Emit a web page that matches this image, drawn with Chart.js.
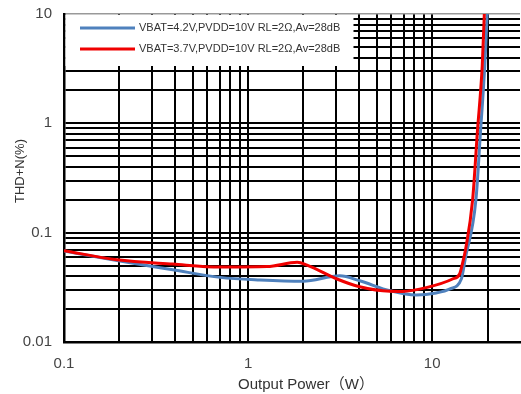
<!DOCTYPE html>
<html lang="zh">
<head>
<meta charset="UTF-8">
<title>THD+N vs Output Power</title>
<style>
  html, body { margin: 0; padding: 0; background: #fff; }
  #wrap { width: 521px; height: 394px; }
</style>
</head>
<body>
<div id="wrap"><canvas id="thd" width="521" height="394"></canvas></div>
<script src="https://cdn.jsdelivr.net/npm/chart.js"></script>
<script>
  // grid / tick values
  const xTicks = [0.1, 0.2, 0.3, 0.4, 0.5, 0.6, 0.7, 0.8, 0.9, 1, 2, 3, 4, 5, 6, 7, 8, 9, 10, 20];
  const yTicks = [0.01, 0.02, 0.03, 0.04, 0.05, 0.06, 0.07, 0.08, 0.09,
                  0.1, 0.2, 0.3, 0.4, 0.5, 0.6, 0.7, 0.8, 0.9,
                  1, 2, 3, 4, 5, 6, 7, 8, 9, 10];
  const xLabels = [0.1, 1, 10];
  const yLabels = [0.01, 0.1, 1, 10];

  // VBAT=4.2V curve
  const powerA = [0.1, 0.194, 0.39, 0.705, 1.16, 1.99, 3.15, 4.04, 5.9, 8.2, 10.5, 12.5, 14.4, 15.1, 17.3, 18.3, 19.3, 19.9];
  const thdA   = [0.068, 0.0556, 0.0458, 0.039, 0.0369, 0.0359, 0.0403, 0.0363, 0.0294, 0.0269, 0.0281, 0.0306, 0.0377, 0.057, 0.203, 0.833, 3.3, 10];

  // VBAT=3.7V curve
  const powerB = [0.1, 0.194, 0.39, 0.705, 1.27, 1.85, 2.09, 3.04, 4.04, 5.9, 6.9, 9.4, 12.9, 14.1, 14.5, 15.2, 16.6, 17.6, 18.7, 19.2];
  const thdB   = [0.0684, 0.0566, 0.0516, 0.0485, 0.049, 0.0536, 0.0505, 0.0377, 0.032, 0.0291, 0.029, 0.0316, 0.0377, 0.0419, 0.0497, 0.0709, 0.203, 0.833, 3.34, 10];

  const seriesNames = ['VBAT=4.2V,PVDD=10V RL=2Ω,Av=28dB', 'VBAT=3.7V,PVDD=10V RL=2Ω,Av=28dB'];
  const seriesColors = ['#4f81bd', '#f00000'];

  const FONT = "'Liberation Sans', Arial, 'Noto Sans CJK SC', sans-serif";

  const toPoints = (xs, ys) => xs.map((x, i) => ({ x: x, y: ys[i] }));

  // white legend box inside the plot + axis titles
  const extras = {
    id: 'extras',
    beforeDatasetsDraw(chart) {
      const ctx = chart.ctx;
      const a = chart.chartArea;
      ctx.save();
      ctx.fillStyle = '#fff';
      ctx.fillRect(a.left + 1.5, a.top + 1, 288, 51);
      ctx.restore();
    },
    afterDraw(chart) {
      const ctx = chart.ctx;
      ctx.save();
      // legend
      ctx.font = '11px ' + FONT;
      ctx.textBaseline = 'middle';
      ctx.fillStyle = '#333';
      [28, 49].forEach((y, i) => {
        ctx.strokeStyle = seriesColors[i];
        ctx.lineWidth = 3;
        ctx.beginPath();
        ctx.moveTo(80, y);
        ctx.lineTo(135, y);
        ctx.stroke();
        ctx.fillText(seriesNames[i], 139, y);
      });
      // axis titles
      ctx.fillStyle = '#333';
      ctx.textAlign = 'center';
      ctx.font = '15px ' + FONT;
      ctx.fillText('Output Power（W）', 306, 385);
      ctx.translate(20, 171);
      ctx.rotate(-Math.PI / 2);
      ctx.font = '13px ' + FONT;
      ctx.fillText('THD+N(%)', 0, 0);
      ctx.restore();
    }
  };

  new Chart(document.getElementById('thd'), {
    type: 'line',
    data: {
      datasets: [
        {
          label: seriesNames[0],
          data: toPoints(powerA, thdA),
          borderColor: seriesColors[0],
          borderWidth: 3,
          pointRadius: 0,
          cubicInterpolationMode: 'monotone',
          order: 1
        },
        {
          label: seriesNames[1],
          data: toPoints(powerB, thdB),
          borderColor: seriesColors[1],
          borderWidth: 3,
          pointRadius: 0,
          cubicInterpolationMode: 'monotone',
          order: 0
        }
      ]
    },
    options: {
      responsive: false,
      animation: false,
      layout: { padding: { top: 14, right: 1, left: 0, bottom: 0 } },
      plugins: {
        legend: { display: false },
        tooltip: { enabled: false }
      },
      scales: {
        x: {
          type: 'logarithmic',
          min: 0.1,
          max: 30,
          afterBuildTicks: s => { s.ticks = xTicks.map(v => ({ value: v })); },
          afterFit: s => { s.height = 52; },
          grid: { color: '#000', lineWidth: 2, drawTicks: false },
          border: { color: '#000', width: 2.5 },
          ticks: {
            autoSkip: false,
            maxRotation: 0,
            padding: 13,
            color: '#444',
            font: { family: FONT, size: 15 },
            callback: v => xLabels.includes(v) ? String(v) : ''
          }
        },
        y: {
          type: 'logarithmic',
          min: 0.01,
          max: 10,
          afterBuildTicks: s => { s.ticks = yTicks.map(v => ({ value: v })); },
          afterFit: s => { s.width = 64; s.paddingTop = 0; s.paddingBottom = 0; },
          grid: {
            color: c => c.tick && c.tick.value === 10 ? '#999' : '#000',
            lineWidth: c => c.tick && c.tick.value === 10 ? 1.5 : 2,
            drawTicks: false
          },
          border: { color: '#000', width: 2.5 },
          ticks: {
            autoSkip: false,
            padding: 12,
            color: '#444',
            font: { family: FONT, size: 15 },
            callback: v => yLabels.includes(v) ? String(v) : ''
          }
        }
      }
    },
    plugins: [extras]
  });
</script>
</body>
</html>
